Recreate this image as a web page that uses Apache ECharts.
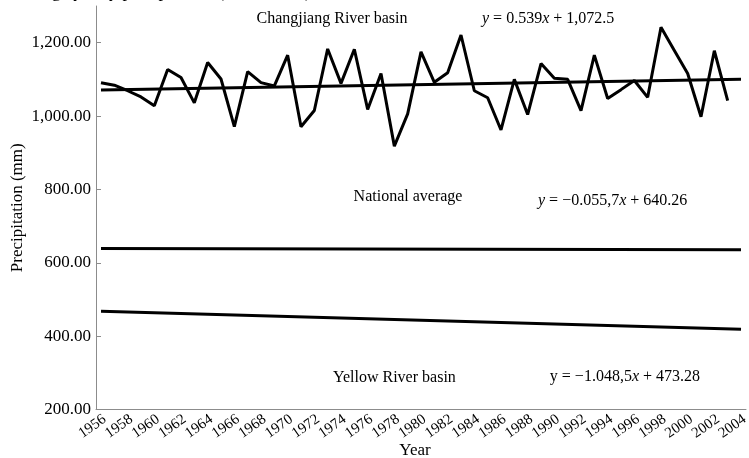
<!DOCTYPE html>
<html>
<head>
<meta charset="utf-8">
<script src="https://cdn.jsdelivr.net/npm/echarts@6/dist/echarts.min.js"></script>
<style>
  html, body { margin: 0; padding: 0; background: #fff; }
  #chart { width: 749px; height: 458px; }
</style>
</head>
<body>
<div id="chart"></div>
<script>
// ---- data ----
const years = [1956, 1957, 1958, 1959, 1960, 1961, 1962, 1963, 1964, 1965,
               1966, 1967, 1968, 1969, 1970, 1971, 1972, 1973, 1974, 1975,
               1976, 1977, 1978, 1979, 1980, 1981, 1982, 1983, 1984, 1985,
               1986, 1987, 1988, 1989, 1990, 1991, 1992, 1993, 1994, 1995,
               1996, 1997, 1998, 1999, 2000, 2001, 2002, 2003];
const changjiang = [1091, 1084, 1069, 1052, 1028, 1127, 1105, 1036, 1146, 1101,
                    971, 1121, 1091, 1082, 1166, 971, 1015, 1183, 1089, 1182,
                    1018, 1116, 918, 1006, 1175, 1092, 1118, 1221, 1069, 1050,
                    962, 1100, 1004, 1143, 1103, 1100, 1015, 1166, 1048, 1072,
                    1097, 1051, 1242, 1179, 1116, 998, 1178, 1042];
const trendYears = [1956, 2004];
const changjiangTrend = [1071, 1100];
const nationalTrend = [639, 635.5];
const yellowTrend = [468, 419];
const xTickYears = [1956, 1958, 1960, 1962, 1964, 1966, 1968, 1970, 1972, 1974,
                    1976, 1978, 1980, 1982, 1984, 1986, 1988, 1990, 1992, 1994,
                    1996, 1998, 2000, 2002, 2004];
const yTicks = [200, 400, 600, 800, 1000, 1200];

// ---- chart ----
const FONT = "'Liberation Serif', 'Times New Roman', serif";
const chart = echarts.init(document.getElementById('chart'), null, { renderer: 'canvas' });

const pairs = (xs, ys) => xs.map((x, i) => [x, ys[i]]);
const lineSeries = (name, data) => ({
  name, type: 'line', data, showSymbol: false, symbol: 'none',
  lineStyle: { color: '#000', width: 3 }, animation: false, z: 3
});

const eqRich = {
  i: { fontFamily: FONT, fontSize: 16, fontStyle: 'italic', fill: '#000' }
};
function txt(text, x, y, align, rich) {
  return {
    type: 'text', x, y, silent: true,
    style: {
      text, font: '16px ' + FONT, fill: '#000',
      align: align, verticalAlign: 'middle',
      rich: rich || undefined
    }
  };
}

chart.setOption({
  animation: false,
  backgroundColor: '#fff',
  grid: { left: 96, right: 3, top: 6, bottom: 48.5, containLabel: false, outerBoundsMode: 'none' },
  xAxis: {
    type: 'value', min: 1955.625, max: 2004.375,
    name: 'Year', nameLocation: 'middle', nameGap: 33, nameMoveOverlap: false,
    nameTextStyle: { fontFamily: FONT, fontSize: 17, color: '#000', padding: [0, 12, 0, 0] },
    axisLine: { show: true, onZero: false, lineStyle: { color: '#8c8c8c', width: 1 } },
    axisTick: { show: false },
    splitLine: { show: false },
    axisLabel: {
      customValues: xTickYears,
      rotate: 35, margin: 3, verticalAlign: 'top', lineHeight: 13,
      hideOverlap: false,
      fontFamily: FONT, fontSize: 15, color: '#000',
      formatter: v => String(v)
    }
  },
  yAxis: {
    type: 'value', min: 200, max: 1300,
    name: 'Precipitation (mm)', nameLocation: 'middle', nameGap: 70, nameMoveOverlap: false,
    nameTextStyle: { fontFamily: FONT, fontSize: 17, color: '#000' },
    axisLine: { show: true, lineStyle: { color: '#8c8c8c', width: 1 } },
    axisTick: { show: true, inside: true, length: 5, customValues: yTicks, lineStyle: { color: '#8c8c8c' } },
    splitLine: { show: false },
    axisLabel: {
      customValues: yTicks, margin: 5,
      fontFamily: FONT, fontSize: 17, color: '#000',
      formatter: v => Number(v).toLocaleString('en-US', { minimumFractionDigits: 2, maximumFractionDigits: 2 })
    }
  },
  series: [
    lineSeries('Changjiang River basin', pairs(years, changjiang)),
    lineSeries('Changjiang trend', pairs(trendYears, changjiangTrend)),
    lineSeries('National average', pairs(trendYears, nationalTrend)),
    lineSeries('Yellow River basin', pairs(trendYears, yellowTrend))
  ],
  graphic: [
    {
      type: 'text', x: 9, y: 1, silent: true,
      style: { text: 'Average yearly precipitation (1956–2004)', font: '18px ' + FONT, fill: '#000', align: 'left', verticalAlign: 'bottom' }
    },
    txt('Changjiang River basin', 332, 19, 'center'),
    txt('{i|y} = 0.539{i|x} + 1,072.5', 482, 19, 'left', eqRich),
    txt('National average', 408, 197, 'center'),
    txt('{i|y} = −0.055,7{i|x} + 640.26', 538, 201, 'left', eqRich),
    txt('Yellow River basin', 333, 378, 'left'),
    txt('y = −1.048,5{i|x} + 473.28', 700, 377, 'right', eqRich)
  ]
});
</script>
</body>
</html>
